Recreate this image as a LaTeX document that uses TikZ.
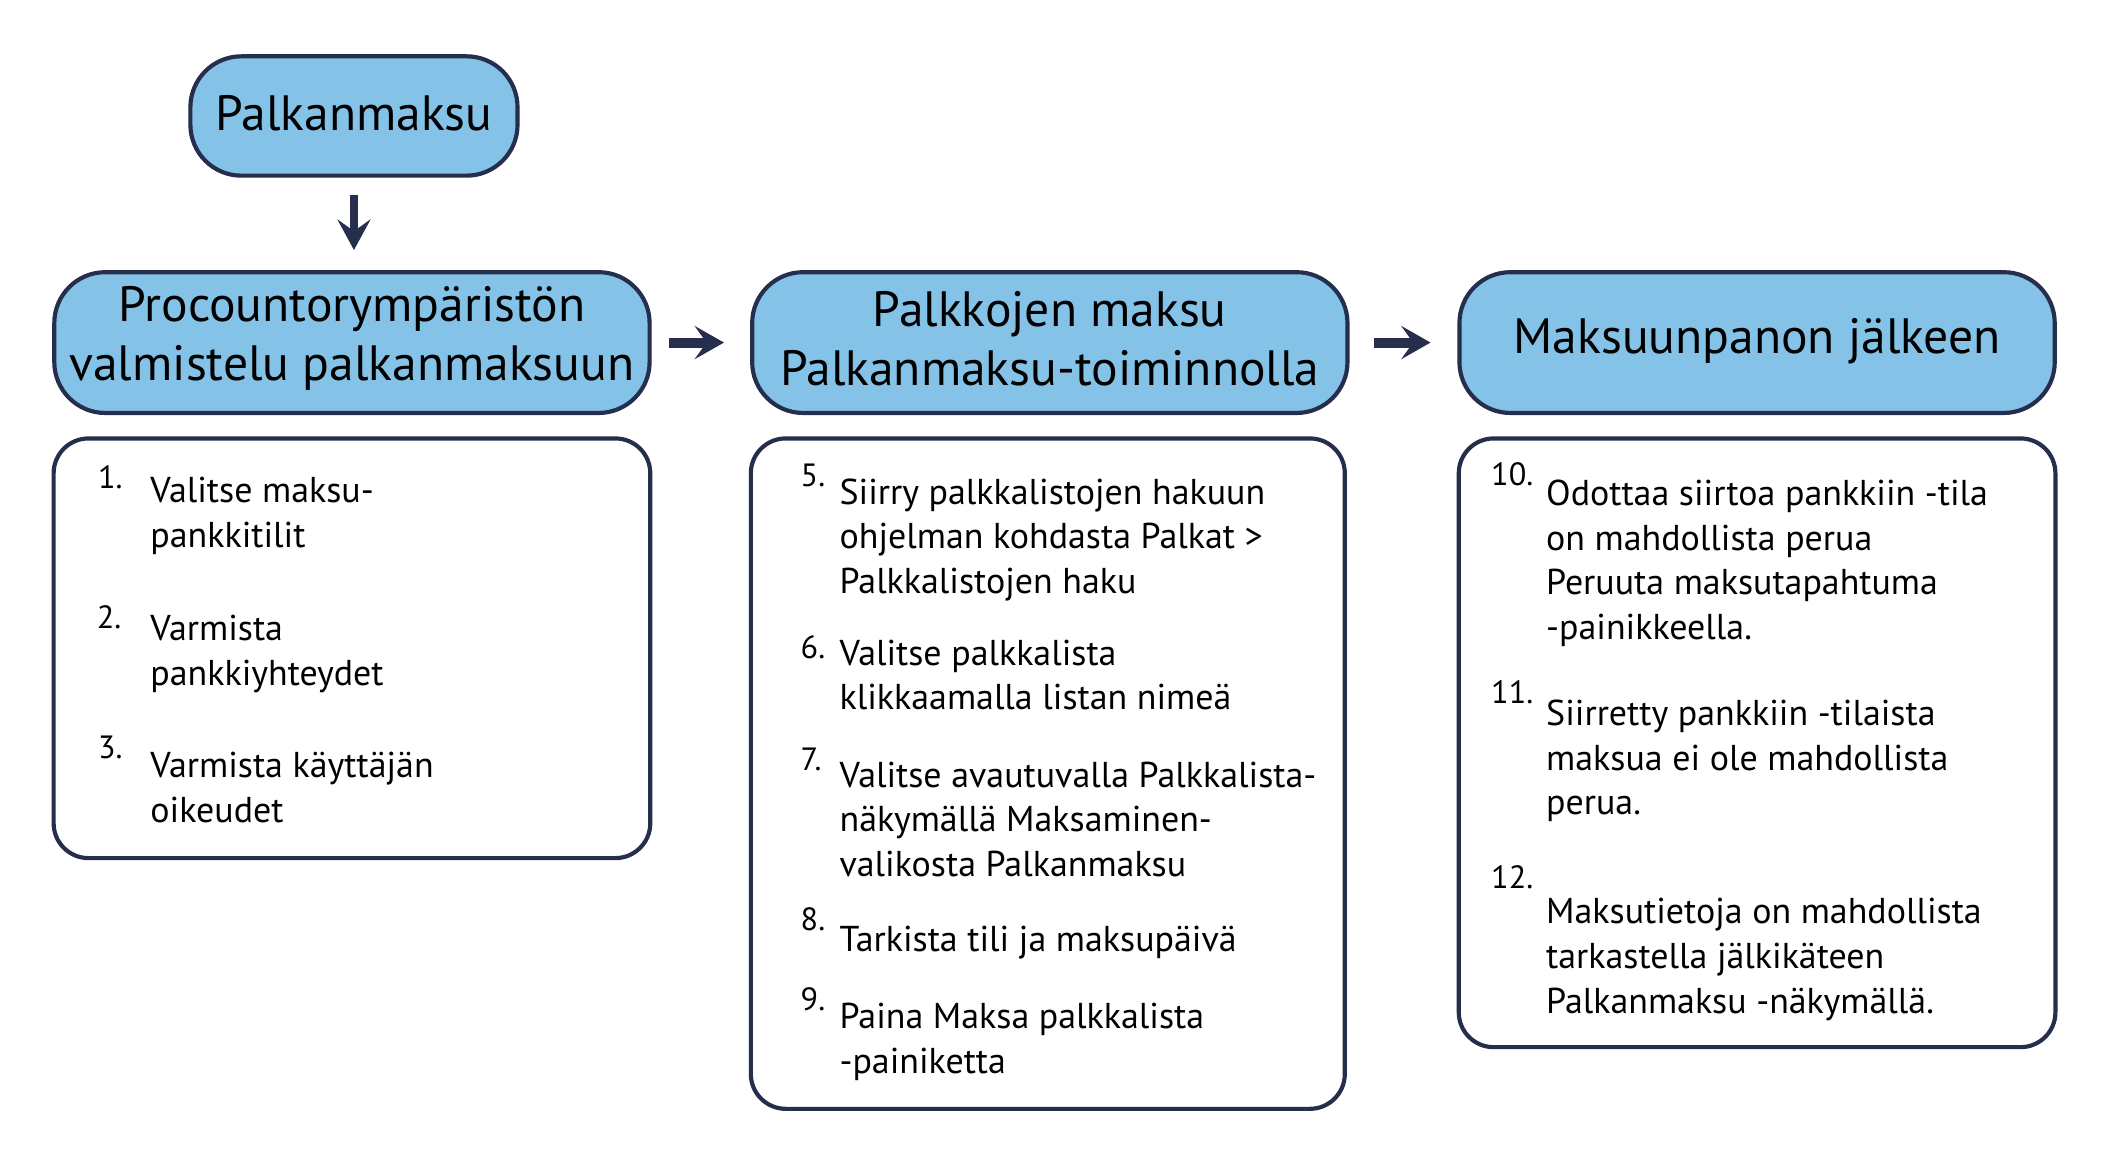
\documentclass[tikz,border=0pt]{standalone}
\usepackage{fontspec}
\setmainfont{PT Sans}
\usetikzlibrary{arrows.meta}
\definecolor{fillblue}{HTML}{84C3E7}
\definecolor{navy}{HTML}{252E4C}
\begin{document}
\begin{tikzpicture}[x=1pt,y=-1pt,
  ttl/.style={draw=navy,fill=fillblue,line width=3.1pt,rounded corners=38pt,
    minimum width=244pt,minimum height=89pt,inner sep=0pt},
  hdr/.style={draw=navy,fill=fillblue,line width=3.1pt,rounded corners=38pt,
    minimum width=444pt,minimum height=105pt,inner sep=0pt},
  htxt/.style={align=center,inner sep=0pt,font=\fontsize{37}{44}\selectfont},
  cbox/.style={draw=navy,fill=white,line width=3.1pt,rounded corners=26pt,inner sep=0pt},
  body/.style={anchor=base west,align=left,inner sep=0pt,
    font=\fontsize{26.8}{33.3}\selectfont},
  num/.style={anchor=base west,inner sep=0pt,font=\fontsize{24}{28}\selectfont},
  harr/.style={draw=navy,line width=7.4pt,
    -{Stealth[length=22pt,width=25pt,inset=9pt,line width=0pt]}},
  varr/.style={draw=navy,line width=5.7pt,
    -{Stealth[length=23pt,width=25pt,inset=9pt,line width=0pt]}}
]
\useasboundingbox (0,0) rectangle (1568.5,865.2);

% title and headers
\node[ttl] (title) at (264,86.5) {};
\node[htxt] (titlet) at ([yshift=2pt]title.center) {Palkanmaksu};
\node[hdr] (h1) at (262.5,255.5) {};
\node[htxt] (h1t) at ([yshift=3pt]h1.center) {Procountorympäristön\\valmistelu palkanmaksuun};
\node[hdr] (h2) at (783,255.5) {};
\node[htxt] (h2t) at ([yshift=3pt]h2.center) {Palkkojen maksu\\Palkanmaksu-toiminnolla};
\node[hdr] (h3) at (1310.5,255.5) {};
\node[htxt] (h3t) at ([yshift=1pt]h3.center) {Maksuunpanon jälkeen};

% content boxes
\node[cbox,minimum width=445pt,minimum height=313pt] (b1) at (262.5,483.5) {};
\node[cbox,minimum width=443pt,minimum height=500pt] (b2) at (781.5,577) {};
\node[cbox,minimum width=445pt,minimum height=454pt] (b3) at (1310.5,554) {};

% connectors
\draw[varr,shorten <=13pt,shorten >=15pt] (title.south) -- (title.south |- h1.north);
\draw[harr,shorten <=13pt,shorten >=19.5pt] (h1.east) -- (h2.west);
\draw[harr,shorten <=18pt,shorten >=20pt] (h2.east) -- (h3.west);

% box 1
\node[num] (n1) at (73,364) {1.};
\node[body] (t1) at (112,408.3) {Valitse maksu-\\pankkitilit};
\node[num] (n2) at (72,469) {2.};
\node[body] (t2) at (112,511.3) {Varmista\\pankkiyhteydet};
\node[num] (n3) at (73,566) {3.};
\node[body] (t3) at (112,613.3) {Varmista käyttäjän\\oikeudet};

% box 2
\node[num] (n5) at (597,363) {5.};
\node[body] (t5) at (626,442.6) {Siirry palkkalistojen hakuun\\ohjelman kohdasta Palkat >\\Palkkalistojen haku};
\node[num] (n6) at (597,491) {6.};
\node[body] (t6) at (626,529.3) {Valitse palkkalista\\klikkaamalla listan nimeä};
\node[num] (n7) at (597,575) {7.};
\node[body] (t7) at (626,653.6) {Valitse avautuvalla Palkkalista-\\näkymällä Maksaminen-\\valikosta Palkanmaksu};
\node[num] (n8) at (597,694) {8.};
\node[body] (t8) at (626,710) {Tarkista tili ja maksupäivä};
\node[num] (n9) at (597,754) {9.};
\node[body] (t9) at (626,800.3) {Paina Maksa palkkalista\\-painiketta};

% box 3
\node[num] (n10) at (1112,362) {10.};
\node[body] (t10) at (1153,476.9) {Odottaa siirtoa pankkiin -tila\\on mahdollista perua\\Peruuta maksutapahtuma\\-painikkeella.};
\node[num] (n11) at (1112,525) {11.};
\node[body] (t11) at (1153,607.6) {Siirretty pankkiin -tilaista\\maksua ei ole mahdollista\\perua.};
\node[num] (n12) at (1112,663) {12.};
\node[body] (t12) at (1153,755.6) {Maksutietoja on mahdollista\\tarkastella jälkikäteen\\Palkanmaksu -näkymällä.};
\end{tikzpicture}
\end{document}
